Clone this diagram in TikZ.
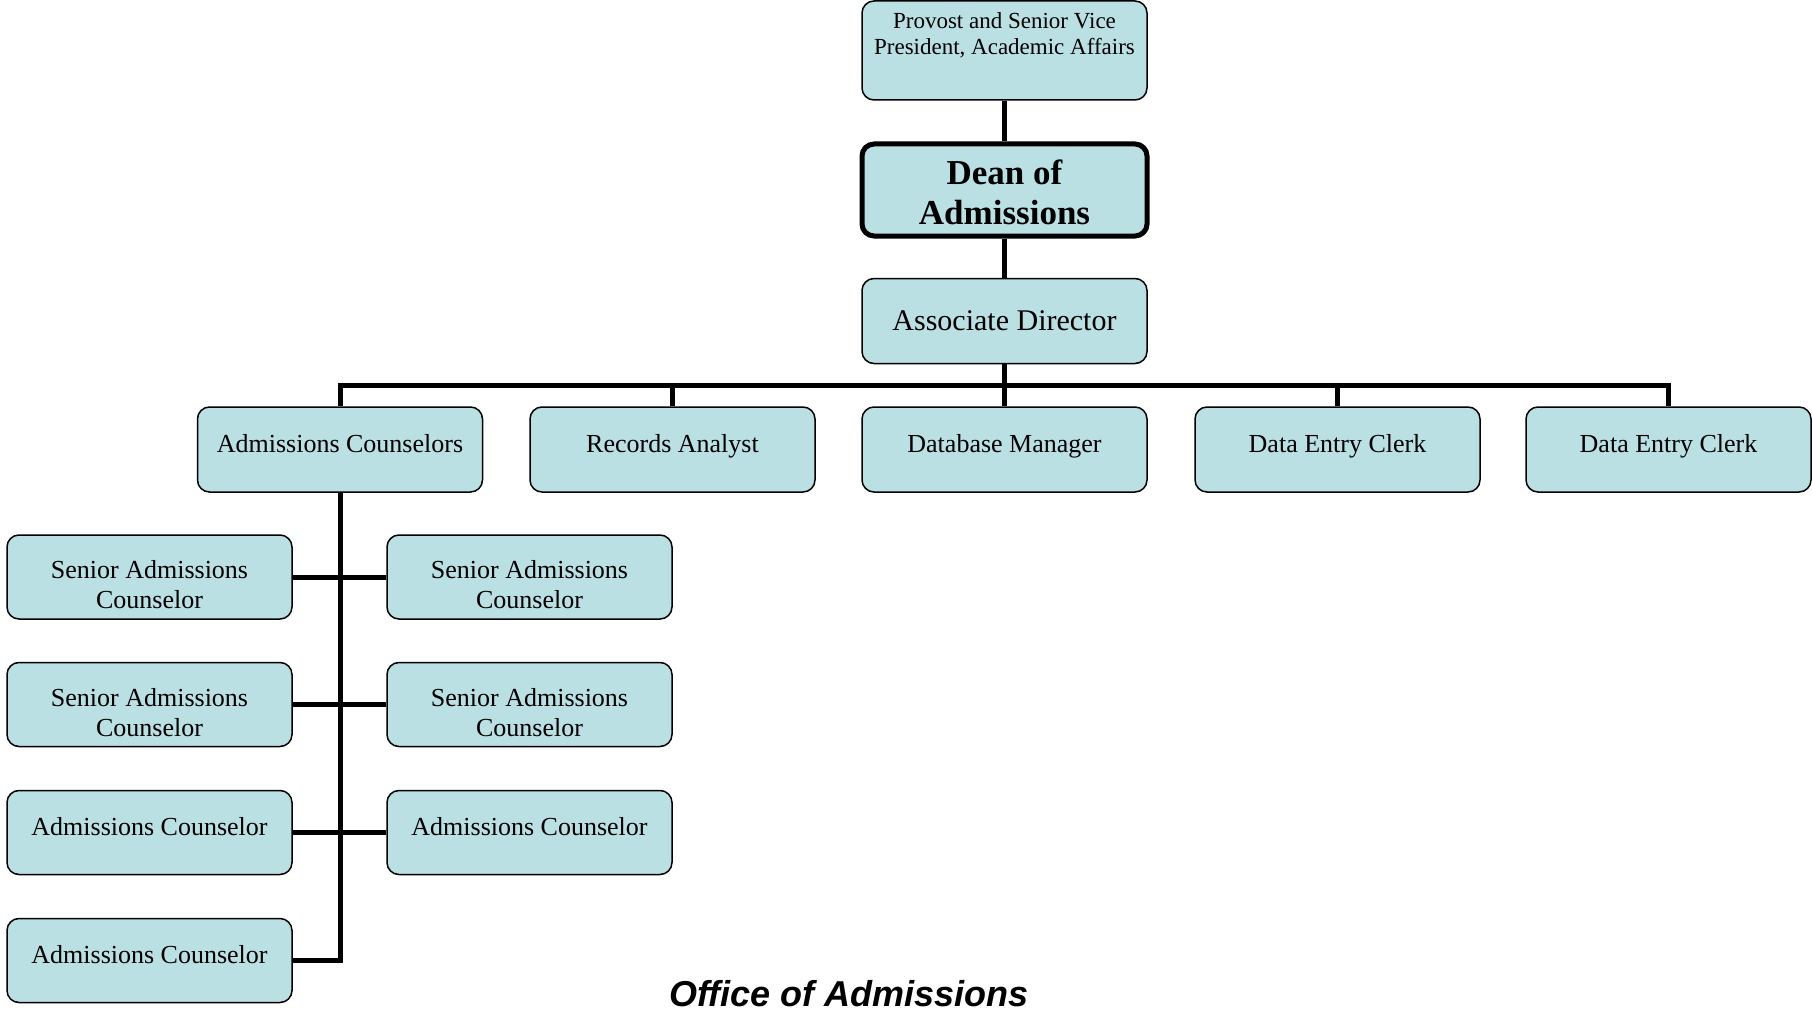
\documentclass[tikz,border=0pt]{standalone}
\usepackage{fontspec}
\setmainfont{Liberation Serif}
\newfontfamily\titlefont{Liberation Sans}
\usetikzlibrary{backgrounds}
\definecolor{boxfill}{RGB}{186,224,227}
\tikzset{
  box/.style={draw=black, line width=1.5pt, fill=boxfill, rounded corners=12pt,
    minimum width=285pt, minimum height=85pt, inner sep=0pt, align=center,
    font=\fontsize{26}{30}\selectfont},
  oneline/.style={box, text height=18pt, text depth=13pt},
  subbox/.style={box, minimum height=84pt},
  subone/.style={oneline, minimum height=84pt},
  conn/.style={line width=5pt},
}
\newcommand{\topgap}[1]{\rule{0pt}{#1}}
\begin{document}
\begin{tikzpicture}[x=1pt,y=-1pt]
\useasboundingbox (0,0) rectangle (1812,1011);
% top chain
\node[box, minimum height=99pt, font=\fontsize{23}{26.6}\selectfont] (prov) at (1004.5,50.5)
  {Provost and Senior Vice\\President, Academic Affairs\\\rule[-7pt]{0pt}{7pt}};
\node[box, line width=5pt, minimum height=92pt, font=\bfseries\fontsize{35}{40.4}\selectfont] (dean) at (1004.5,190)
  {\topgap{29pt}Dean of\\Admissions};
\node[box, text height=21pt, text depth=2.5pt, font=\fontsize{30}{34}\selectfont] (assoc) at (1004.5,321) {Associate Director};
% second row
\node[oneline] (ac)   at (340,449.5)    {Admissions Counselors};
\node[oneline] (ra)   at (672.5,449.5)  {Records Analyst};
\node[oneline] (dm)   at (1004.5,449.5) {Database Manager};
\node[oneline] (dec1) at (1337.5,449.5) {Data Entry Clerk};
\node[oneline] (dec2) at (1668.5,449.5) {Data Entry Clerk};
% counselors
\node[subbox] (l1) at (149.5,577)   {\topgap{34pt}Senior Admissions\\Counselor};
\node[subbox] (r1) at (529.5,577)   {\topgap{34pt}Senior Admissions\\Counselor};
\node[subbox] (l2) at (149.5,704.5) {\topgap{34pt}Senior Admissions\\Counselor};
\node[subbox] (r2) at (529.5,704.5) {\topgap{34pt}Senior Admissions\\Counselor};
\node[subone] (l3) at (149.5,832.5) {Admissions Counselor};
\node[subone] (r3) at (529.5,832.5) {Admissions Counselor};
\node[subone] (l4) at (149.5,960.5) {Admissions Counselor};
% title
\node[font=\titlefont\bfseries\itshape\fontsize{36}{40}\selectfont, anchor=base, inner sep=0pt] (title)
  at (849,1006) {Office of Admissions};
\coordinate (bus) at (1004.5,385);
\begin{pgfonlayer}{background}
\draw[conn] (prov.south) -- (dean.north);
\draw[conn] (dean.south) -- (assoc.north);
\draw[conn] (assoc.south) -- (bus);
\draw[conn] (ac.north) |- (dec2.north |- bus) -- (dec2.north);
\draw[conn] (ra.north) -- (ra.north |- bus);
\draw[conn] (dm.north) -- (dm.north |- bus);
\draw[conn] (dec1.north) -- (dec1.north |- bus);
\draw[conn] (ac.south) |- (l4.east);
\draw[conn] (l1.east) -- (r1.west);
\draw[conn] (l2.east) -- (r2.west);
\draw[conn] (l3.east) -- (r3.west);
\end{pgfonlayer}
\end{tikzpicture}
\end{document}
